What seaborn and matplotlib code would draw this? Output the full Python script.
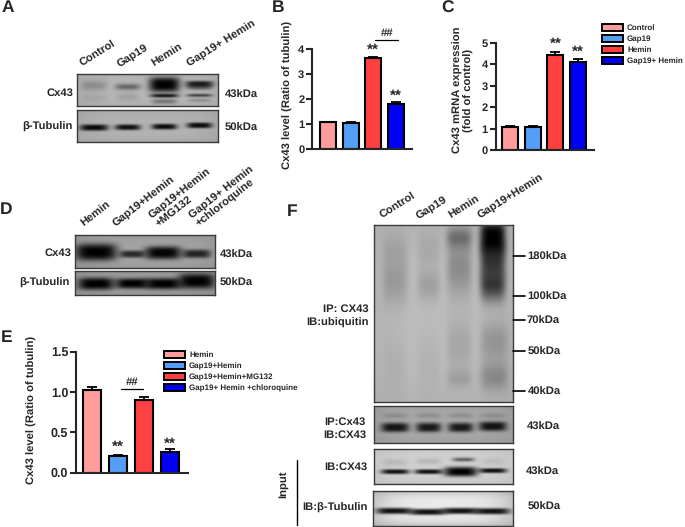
import numpy as np
import pandas as pd
import matplotlib
matplotlib.use("Agg")
import matplotlib.pyplot as plt
from matplotlib.patches import Patch
from matplotlib.lines import Line2D
import seaborn as sns

W, H = 685, 527
LABEL = 8.1

groups_four = ["Control", "Gap19", "Hemin", "Gap19+ Hemin"]
b_values = [1.05, 1.03, 3.63, 1.80]
b_errors = [0.02, 0.04, 0.03, 0.08]
c_values = [1.07, 1.08, 4.42, 4.12]
c_errors = [0.03, 0.05, 0.14, 0.12]

groups_e = ["Hemin", "Gap19+Hemin", "Gap19+Hemin+MG132", "Gap19+ Hemin +chloroquine"]
e_values = [1.03, 0.20, 0.90, 0.26]
e_errors = [0.04, 0.02, 0.04, 0.03]

colors = ["#FF9C9C", "#559EF8", "#FF4040", "#0000F5"]

# blot bands: lane x, band y, half width, half height, darkness (fractions of panel)
a_cx43 = [(.12, .36, .09, .16, .22), (.12, .75, .09, .12, .08),
          (.36, .40, .09, .10, .45), (.36, .72, .08, .12, .12),
          (.62, .33, .11, .24, 1.0), (.62, .68, .10, .06, .85), (.62, .86, .09, .08, .35),
          (.87, .31, .10, .10, .85), (.87, .43, .09, .07, .45), (.87, .67, .09, .05, .65), (.87, .83, .08, .05, .2)]
a_tub = [(.12, .55, .10, .10, .95), (.36, .54, .09, .09, .92), (.62, .52, .09, .09, .94), (.87, .48, .09, .09, .94)]
d_cx43 = [(.15, .52, .15, .26, 1.0), (.41, .58, .09, .11, .75), (.63, .54, .13, .20, .97), (.87, .57, .10, .13, .78)]
d_tub = [(.15, .53, .13, .26, 1.0), (.41, .52, .12, .22, 1.0), (.63, .53, .13, .24, 1.0), (.87, .42, .13, .32, 1.0)]
f_ub = [(.15, .14, .09, .10, .10), (.15, .32, .09, .13, .17), (.15, .78, .08, .18, .05),
        (.39, .14, .08, .10, .09), (.39, .34, .08, .09, .15), (.39, .78, .08, .18, .05),
        (.61, .07, .09, .06, .36), (.61, .24, .09, .16, .26),
        (.61, .68, .09, .16, .12), (.61, .87, .09, .05, .12),
        (.85, .07, .09, .10, 1.0), (.85, .20, .09, .12, .70), (.85, .34, .09, .09, .65),
        (.86, .66, .10, .12, .20), (.86, .86, .10, .08, .25)]
f_ip = [(.15, .58, .10, .13, .88), (.39, .58, .09, .13, .85), (.62, .58, .09, .13, .85), (.85, .55, .10, .13, .90),
        (.15, .26, .09, .07, .15), (.39, .26, .09, .07, .15), (.62, .26, .09, .07, .15), (.85, .26, .09, .07, .15)]
f_input = [(.15, .65, .10, .07, .92), (.39, .65, .10, .07, .92), (.62, .65, .12, .14, 1.0), (.85, .62, .10, .07, .92),
           (.15, .38, .09, .1, .10), (.39, .35, .09, .1, .12), (.64, .30, .08, .06, .55), (.85, .35, .09, .1, .08)]
f_tub = [(.15, .57, .13, .09, .92), (.39, .60, .13, .09, .92), (.62, .57, .13, .09, .92), (.85, .58, .13, .09, .92)]


def px_axes(fig, x0, y0, x1, y1):
    return fig.add_axes([x0 / W, 1 - y1 / H, (x1 - x0) / W, (y1 - y0) / H])


def ftext(fig, x, y, s, **kw):
    kw.setdefault("va", "center")
    kw.setdefault("fontsize", LABEL)
    fig.text(x / W, 1 - y / H, s, **kw)


def blot(fig, box, bands, bg, edge="#3a3a3a", vignette=0.08):
    x0, y0, x1, y1 = box
    nx, ny = (x1 - x0) * 2, (y1 - y0) * 2
    xx, yy = np.meshgrid(np.linspace(0, 1, nx), np.linspace(0, 1, ny))
    img = bg - vignette * (1 - np.exp(-((xx - .5) / .55) ** 4 - ((yy - .5) / .55) ** 4))
    for cx, cy, hw, hh, dark in bands:
        # strong bands saturate with a harder edge, faint ones stay soft
        p = 3 if dark > 0.7 else 2
        img *= 1 - dark * np.exp(-((xx - cx) / hw) ** 4 - (np.abs(yy - cy) / hh) ** p)
    ax = px_axes(fig, x0, y0, x1, y1)
    ax.imshow(img, cmap="gray", vmin=0, vmax=1, aspect="auto", interpolation="bilinear")
    ax.set_xticks([])
    ax.set_yticks([])
    for s in ax.spines.values():
        s.set_color(edge)
        s.set_linewidth(1.0)
    return ax


def bars(fig, box, names, values, errors, xlim, top, ticks, ticklabels, fs, width=0.71):
    ax = px_axes(fig, *box)
    df = pd.DataFrame({"group": names, "value": values})
    sns.barplot(data=df, x="group", y="value", hue="group", palette=colors, saturation=1,
                width=width, edgecolor="black", linewidth=1.5, legend=False, ax=ax)
    ax.errorbar(range(len(values)), values, yerr=[np.zeros(len(errors)), errors], fmt="none",
                ecolor="black", elinewidth=1.3, capsize=3.5, capthick=1.3)
    ax.set_xlim(*xlim)
    ax.set_ylim(0, top)
    ax.set_yticks(ticks)
    ax.set_yticklabels(ticklabels, fontsize=fs, fontweight="bold")
    ax.set_xticks([])
    ax.set_xlabel("")
    ax.set_ylabel("")
    sns.despine(ax=ax)
    for s in ["left", "bottom"]:
        ax.spines[s].set_linewidth(1.5)
    ax.tick_params(axis="y", width=1.5, length=4, pad=1.5)
    ax.patch.set_alpha(0)
    return ax


def px_ylabel(fig, ax, s, x, y):
    ax.set_ylabel(s, fontsize=LABEL, fontweight="bold", linespacing=1.1)
    ax.yaxis.set_label_coords(x / W, 1 - y / H, transform=fig.transFigure)


def stars(ax, x, y, s="**", fs=11):
    ax.text(x, y, s, ha="center", va="center", fontsize=fs, fontweight="bold", clip_on=False)


def swatch_legend(fig, names, x, y):
    handles = [Patch(facecolor=c, edgecolor="black", linewidth=1.4) for c in colors]
    fig.legend(handles, names, loc="upper left", bbox_to_anchor=(x / W, 1 - y / H), frameon=False,
               prop={"size": 5.8, "weight": "bold"}, handlelength=2.65, handleheight=1.0,
               handletextpad=0.45, labelspacing=0.37, borderpad=0, borderaxespad=0)


sns.set_style("ticks")
plt.rcParams["font.family"] = ["Liberation Sans", "DejaVu Sans"]
plt.rcParams["font.weight"] = "bold"
plt.rcParams["text.hinting"] = "no_hinting"

fig = plt.figure(figsize=(W / 100, H / 100), dpi=100, facecolor="white")

# panel letters
for s, x, y in [("A", 2, 8), ("B", 272, 8), ("C", 441, 8), ("D", 0, 210), ("E", 1, 338), ("F", 287, 212)]:
    ftext(fig, x, y, s, fontsize=12.5, fontweight="bold", ha="left")

# A
blot(fig, (77, 74, 218, 106), a_cx43, 0.72)
blot(fig, (77, 110, 218, 142), a_tub, 0.70)
for s, x in [("Control", 84), ("Gap19", 121), ("Hemin", 155), ("Gap19+ Hemin", 191)]:
    ftext(fig, x, 69, s, rotation=32, rotation_mode="anchor", ha="left", va="bottom")
ftext(fig, 73, 93.5, "Cx43", ha="right")
ftext(fig, 73, 126.5, "β-Tubulin", ha="right")
ftext(fig, 225, 95.5, "43kDa", ha="left")
ftext(fig, 225, 128.5, "50kDa", ha="left")

# B
ax_b = bars(fig, (312, 49, 412, 148.5), groups_four, b_values, b_errors, (-0.71, 3.72), 4,
            [0, 1, 2, 3, 4], ["0", "1", "2", "3", "4"], 8)
px_ylabel(fig, ax_b, "Cx43 level (Ratio of tubulin)", 293, 95)
stars(ax_b, 2, 3.95)
stars(ax_b, 3, 2.10)
stars(ax_b, 2.6, 4.62, "##", 8.2)
ax_b.add_line(Line2D([2.06, 3.08], [4.36, 4.36], color="black", lw=0.9, clip_on=False))

# C
ax_c = bars(fig, (495.5, 43, 594, 150), groups_four, c_values, c_errors, (-0.64, 3.70), 5,
            [0, 1, 2, 3, 4, 5], ["0", "1", "2", "3", "4", "5"], 8)
px_ylabel(fig, ax_c, "Cx43 mRNA expression\n(fold of control)", 474, 90)
stars(ax_c, 2, 4.97)
stars(ax_c, 3, 4.6)
swatch_legend(fig, groups_four, 602, 24)

# D
blot(fig, (75, 235, 215, 268), d_cx43, 0.64)
blot(fig, (75, 271, 215, 295), d_tub, 0.62)
for s, x, y in [("Hemin", 86, 229), ("Gap19+Hemin", 118, 229), ("Gap19+Hemin\n+MG132", 160, 229),
                ("Gap19+ Hemin\n+chloroquine", 201, 229)]:
    ftext(fig, x, y, s, rotation=38, rotation_mode="anchor", ha="left", va="bottom",
          linespacing=1.05, multialignment="left")
ftext(fig, 71, 253.5, "Cx43", ha="right")
ftext(fig, 70, 282.5, "β-Tubulin", ha="right")
ftext(fig, 220, 255.5, "43kDa", ha="left")
ftext(fig, 220, 283.5, "50kDa", ha="left")

# E
ax_e = bars(fig, (76, 352, 188, 472.5), groups_e, e_values, e_errors, (-0.615, 3.69), 1.5,
            [0, 0.5, 1.0, 1.5], ["0.0", "0.5", "1.0", "1.5"], 9, width=0.69)
px_ylabel(fig, ax_e, "Cx43 level (Ratio of tubulin)", 37, 410)
stars(ax_e, 1, 0.32)
stars(ax_e, 3, 0.36)
stars(ax_e, 1.55, 1.12, "##", 8.2)
ax_e.add_line(Line2D([1.1, 1.95], [1.04, 1.04], color="black", lw=0.9, clip_on=False))
swatch_legend(fig, groups_e, 164, 351)

# F
blot(fig, (374, 225, 513, 402), f_ub, 0.74)
blot(fig, (374, 406, 513, 443), f_ip, 0.66)
blot(fig, (374, 449, 513, 484), f_input, 0.82)
blot(fig, (373, 491, 513, 526), f_tub, 0.92, vignette=0.3)
for s, x in [("Control", 384), ("Gap19", 420), ("Hemin", 452), ("Gap19+Hemin", 482)]:
    ftext(fig, x, 221, s, rotation=32, rotation_mode="anchor", ha="left", va="bottom")
for s, y, tx in [("180kDa", 256, 527), ("100kDa", 296, 527), ("70kDa", 320, 527), ("50kDa", 351, 528), ("40kDa", 391, 528)]:
    fig.add_artist(Line2D([513 / W, 525 / W], [1 - y / H, 1 - y / H], color="black", lw=1.2))
    ftext(fig, tx, y + 1, s, ha="left")
ftext(fig, 369, 309.5, "IP: CX43", ha="right")
ftext(fig, 369, 322.5, "IB:ubiquitin", ha="right")
ftext(fig, 366, 422.5, "IP:Cx43", ha="right")
ftext(fig, 366, 435.5, "IB:CX43", ha="right")
ftext(fig, 367, 467.5, "IB:CX43", ha="right")
ftext(fig, 368, 507.5, "IB:β-Tubulin", ha="right")
ftext(fig, 283, 484, "Input", rotation=90, ha="center")
fig.add_artist(Line2D([296.5 / W, 296.5 / W], [1 - 460 / H, 1 - 525 / H], color="black", lw=1.0))
ftext(fig, 527, 427.5, "43kDa", ha="left")
ftext(fig, 526, 472.5, "43kDa", ha="left")
ftext(fig, 528, 507.5, "50kDa", ha="left")

fig.savefig("out.png", dpi=100)
